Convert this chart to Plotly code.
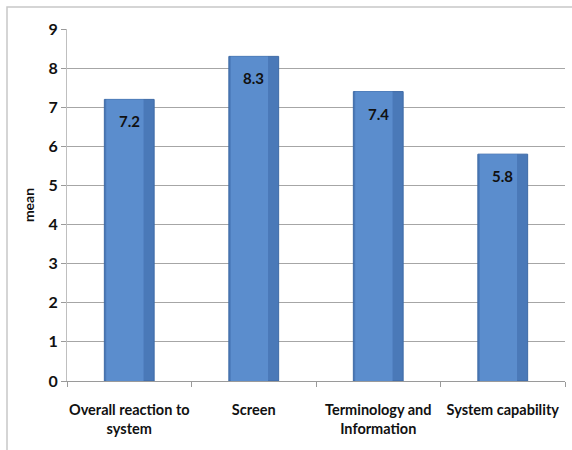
import plotly.graph_objects as go

categories = ["Overall reaction to<br>system", "Screen", "Terminology and<br>Information", "System capability"]
means = [7.2, 8.3, 7.4, 5.8]
value_labels = ["7.2", "8.3", "7.4", "5.8"]
y_ticks = [0, 1, 2, 3, 4, 5, 6, 7, 8, 9]

FONT = "Lato, Roboto, sans-serif"

fig = go.Figure()
fig.add_trace(go.Bar(
    x=categories, y=means, width=0.4,
    marker=dict(color="#4A79B8", line=dict(color="#3E6AA6", width=1)),
    hoverinfo="skip", showlegend=False,
))
fig.add_trace(go.Bar(
    x=categories, y=means, width=0.3, offset=-0.185,
    marker=dict(color="#5B8DCD", line=dict(width=0)),
    hoverinfo="skip", showlegend=False,
))

for c, v, t in zip(categories, means, value_labels):
    fig.add_annotation(x=c, y=v, text="<b>%s</b>" % t, showarrow=False,
                       yshift=-22, font=dict(family=FONT, size=15, color="#111111"))

W, H = 572, 450
L, R, T, B = 67, 7, 29, 69
pw, ph = W - L - R, H - T - B
def px(x): return (x - L) / pw
def py(y): return (H - B - y) / ph

fig.add_shape(type="rect", xref="paper", yref="paper",
              x0=px(7), x1=px(575), y0=py(452), y1=py(7),
              line=dict(color="#C8C8C8", width=1.5), fillcolor="rgba(0,0,0,0)", layer="below")

fig.update_layout(
    width=W, height=H,
    margin=dict(l=L, r=R, t=T, b=B, autoexpand=False),
    paper_bgcolor="white", plot_bgcolor="white",
    font=dict(family=FONT, size=15, color="#111111"),
    barmode="overlay",
    xaxis=dict(
        showline=True, linecolor="#9A9A9A", linewidth=1,
        ticks="outside", tickson="boundaries", ticklen=5, tickcolor="#9A9A9A",
        tickfont=dict(family=FONT, size=14.5, color="#111111"),
        tickprefix="<b>", ticksuffix="</b>",
        tickangle=0, automargin=False, ticklabelstandoff=16,
        showgrid=False,
    ),
    yaxis=dict(
        range=[0, 9], tickvals=y_ticks, ticktext=["<b>%d</b>" % v for v in y_ticks],
        showline=True, linecolor="#BFBFBF", linewidth=1,
        ticks="outside", ticklen=5, tickcolor="#9A9A9A",
        showgrid=True, gridcolor="#A6A6A6", gridwidth=1,
        zeroline=False, automargin=False,
        tickfont=dict(family=FONT, size=16, color="#111111"),
        title=dict(text="<b>mean</b>", font=dict(family=FONT, size=14, color="#111111"), standoff=10),
    ),
)

fig.write_html("out.html")
